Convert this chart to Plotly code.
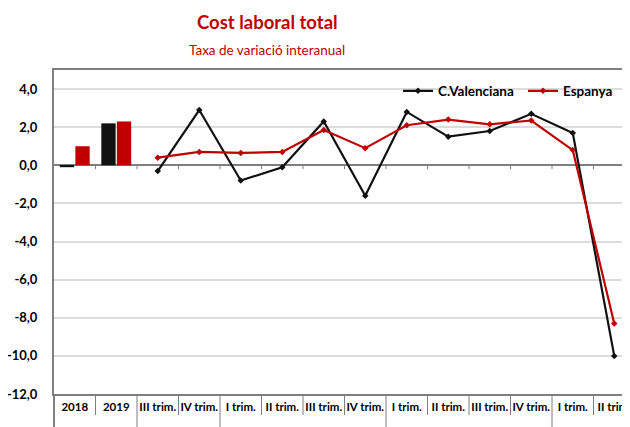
import plotly.graph_objects as go

# ---- data ----
annual_labels = ["2018", "2019"]
annual_cv = [-0.1, 2.2]
annual_esp = [1.0, 2.3]

quarter_labels = ["III trim.", "IV trim.",
                  "I trim.", "II trim.", "III trim.", "IV trim.",
                  "I trim.", "II trim.", "III trim.", "IV trim.",
                  "I trim.", "II trim."]
quarter_years = ["2017", "2017",
                 "2018", "2018", "2018", "2018",
                 "2019", "2019", "2019", "2019",
                 "2020", "2020"]
cv_q = [-0.3, 2.9, -0.8, -0.1, 2.3, -1.6, 2.8, 1.5, 1.8, 2.7, 1.7, -10.0]
esp_q = [0.4, 0.7, 0.65, 0.7, 1.85, 0.9, 2.1, 2.4, 2.15, 2.35, 0.8, -8.3]

y_ticks = [-12, -10, -8, -6, -4, -2, 0, 2, 4]

title_text = "Cost laboral total"
subtitle_text = "Taxa de variació interanual"
series_names = ["C.Valenciana", "Espanya"]

BLACK = "#111111"
RED = "#C00000"
AXIS = "#7F7F7F"
GRID = "#DCDCDC"
FONT = "Lato"

all_labels = annual_labels + quarter_labels
n = len(all_labels)
xa = list(range(len(annual_labels)))
xq = list(range(len(annual_labels), n))

fig = go.Figure()
fig.add_trace(go.Bar(x=xa, y=annual_cv, marker=dict(color=BLACK, line=dict(width=0)),
                     showlegend=False, name=series_names[0]))
fig.add_trace(go.Bar(x=xa, y=annual_esp, marker=dict(color=RED, line=dict(width=0)),
                     showlegend=False, name=series_names[1]))
fig.add_trace(go.Scatter(x=xq, y=cv_q, mode="lines+markers", name=series_names[0],
                         line=dict(color=BLACK, width=2.2),
                         marker=dict(symbol="diamond", size=5, color=BLACK)))
fig.add_trace(go.Scatter(x=xq, y=esp_q, mode="lines+markers", name=series_names[1],
                         line=dict(color=RED, width=2.2),
                         marker=dict(symbol="diamond", size=5, color=RED)))

# page body has an 8px margin; figure coordinates are offset by it
OFF = 8
W, H = 630 - OFF, 427 - OFF
L, T = 54 - OFF, 70 - OFF
PLOT_BOTTOM = 394 - OFF
B = H - PLOT_BOTTOM
plot_w = W - L
plot_h = H - T - B
cat_px = 41.5

shapes = []
# small tick marks on the zero line at category boundaries
for i in range(n - 1):
    shapes.append(dict(type="line", xref="x", yref="y", x0=i + 0.5, x1=i + 0.5,
                       y0=0, y1=-0.2, line=dict(color=AXIS, width=1)))
# separators in the category table below the plot
all_years = [""] * len(annual_labels) + quarter_years
for i in range(n - 1):
    group_break = i >= len(annual_labels) - 1 and all_years[i] != all_years[i + 1]
    y1 = -0.12 if group_break else -21 / plot_h
    shapes.append(dict(type="line", xref="x", yref="paper", x0=i + 0.5, x1=i + 0.5,
                       y0=0, y1=y1, line=dict(color=AXIS, width=1)))
shapes.append(dict(type="line", xref="paper", yref="paper", x0=0, x1=0,
                   y0=0, y1=-0.12, line=dict(color=AXIS, width=2)))

annotations = []
# year group labels
groups = []
for i, yv in enumerate(quarter_years):
    xi = xq[i]
    if groups and groups[-1][0] == yv:
        groups[-1][2] = xi
    else:
        groups.append([yv, xi, xi])
for yv, a, b in groups:
    annotations.append(dict(x=(a + b) / 2, y=-(423 - 394) / plot_h, xref="x", yref="paper",
                            text=yv, showarrow=False, yanchor="top",
                            font=dict(family=FONT, size=11.5, color="black", weight="bold")))
annotations.append(dict(x=(267 - 54) / plot_w, y=1 + (70 - 22) / plot_h, xref="paper", yref="paper",
                        text=title_text, showarrow=False, yanchor="middle",
                        font=dict(family=FONT, size=18.5, color=RED, weight="bold")))
annotations.append(dict(x=(267 - 54) / plot_w, y=1 + (70 - 50) / plot_h, xref="paper", yref="paper",
                        text=subtitle_text, showarrow=False, yanchor="middle",
                        font=dict(family=FONT, size=13.5, color=RED)))

fig.update_layout(
    width=W, height=H,
    margin=dict(l=L, r=0, t=T, b=B, autoexpand=False),
    plot_bgcolor="white", paper_bgcolor="white",
    barmode="group", bargap=0.25, bargroupgap=0.08,
    shapes=shapes, annotations=annotations,
    legend=dict(orientation="h", x=(398 - 54) / plot_w, y=1 - (91 - 70) / plot_h,
                xanchor="left", yanchor="middle", bgcolor="rgba(0,0,0,0)",
                font=dict(family=FONT, size=13.5, color="black", weight="bold"),
                itemwidth=30, tracegroupgap=0, entrywidth=80, entrywidthmode="pixels"),
    xaxis=dict(range=[-0.5, -0.5 + plot_w / cat_px], tickmode="array",
               tickvals=list(range(n)), ticktext=all_labels, ticks="",
               showgrid=False, zeroline=False, automargin=False,
               showline=True, linecolor=AXIS, linewidth=2, mirror=True,
               ticklabeloverflow="allow",
               tickfont=dict(family=FONT, size=11.5, color="black", weight="bold"),
               ticklabelstandoff=1),
    yaxis=dict(range=[-12, 5], tickmode="array", tickvals=y_ticks,
               ticktext=[f"{v:.1f}".replace(".", ",") for v in y_ticks],
               showgrid=True, gridcolor=GRID, gridwidth=1.5, automargin=False,
               zeroline=True, zerolinecolor=AXIS, zerolinewidth=1.5,
               showline=True, linecolor=AXIS, linewidth=2,
               tickfont=dict(family=FONT, size=13, color="black", weight="bold"),
               ticklabelstandoff=12),
)

fig.write_html("out.html")
